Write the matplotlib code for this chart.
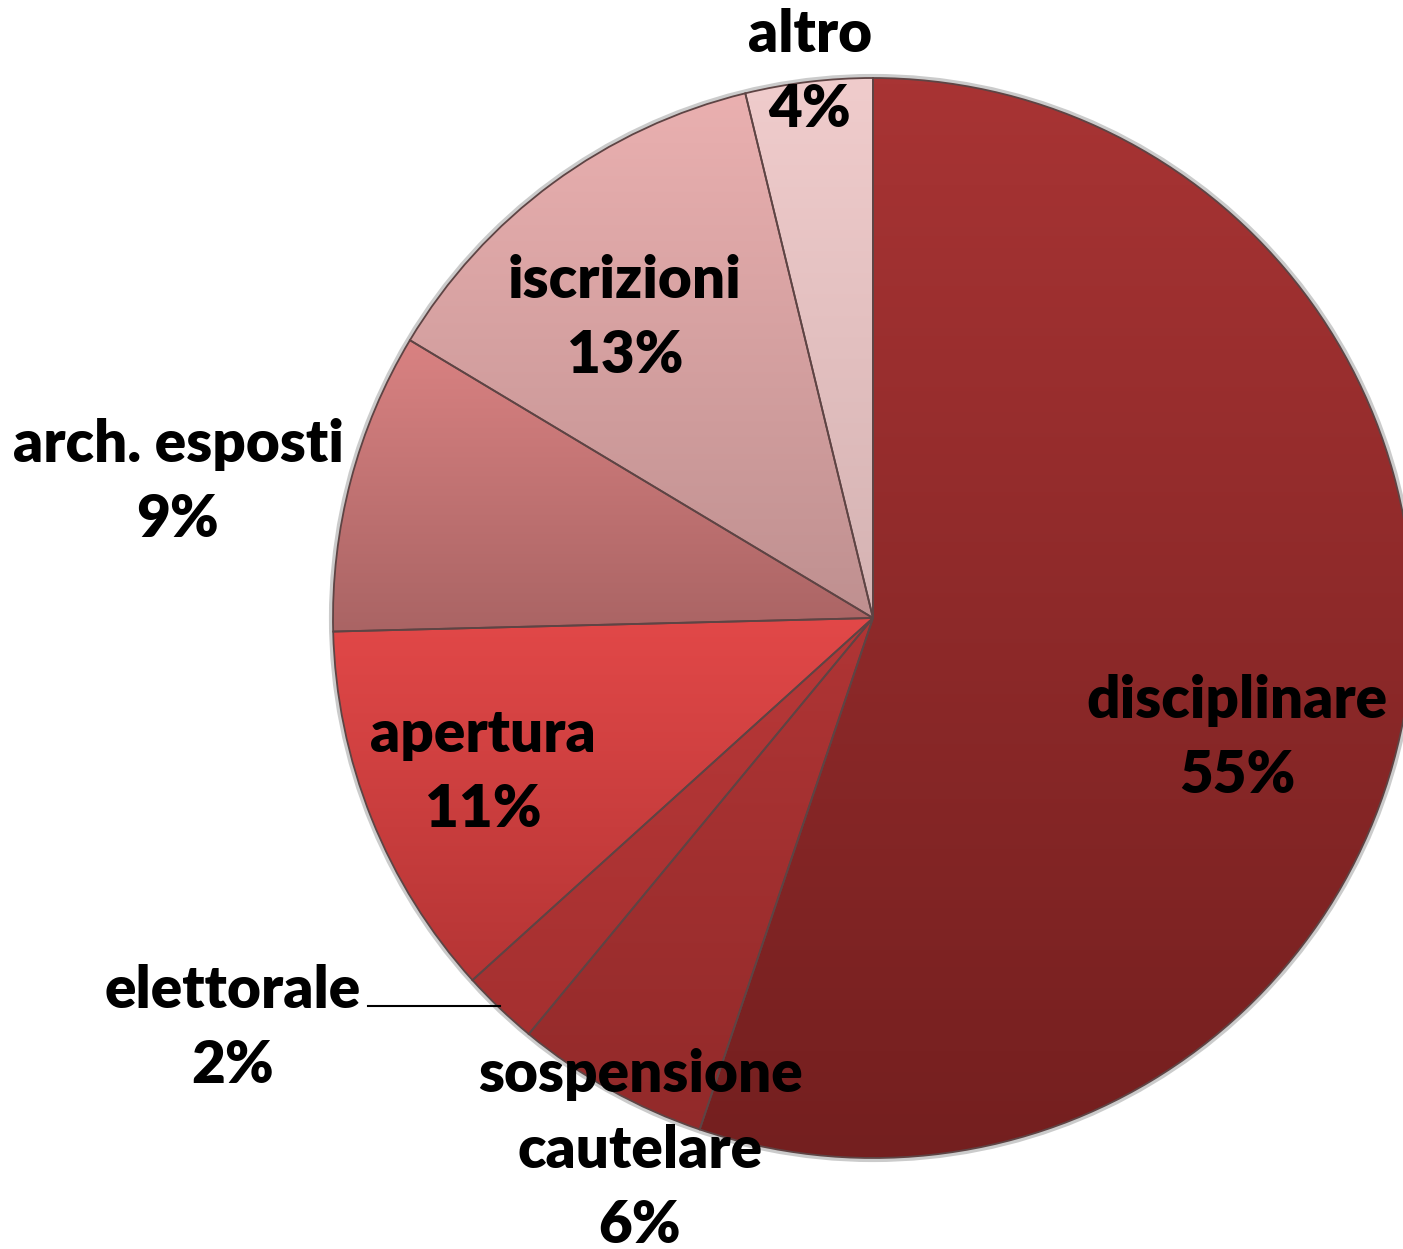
import numpy as np
import matplotlib.pyplot as plt
from matplotlib.colors import LinearSegmentedColormap

labels = ["disciplinare", "sospensione\ncautelare", "elettorale", "apertura",
          "arch. esposti", "iscrizioni", "altro"]
shares = [55.2, 5.8, 2.3, 11.3, 9.0, 12.6, 3.8]   # slice sizes
pct_labels = [55, 6, 2, 11, 9, 13, 4]              # percentages as printed
top_colors = ["#a83434", "#b03535", "#b83838", "#e24848", "#d98282", "#eab0b0", "#f0cccc"]
bot_colors = ["#741f1f", "#922a2a", "#a53030", "#b53535", "#aa6464", "#bf9090", "#d5b3b3"]

W, H = 1403, 1249
cx, cy, R = 873, H - 618, 540

# label positions in pixel coords (x, y from top)
label_pos = [(1237, 738), (640, 1150), (233, 1028), (483, 772),
             (178, 482), (625, 318), (810, 72)]

plt.rcParams['font.family'] = ['Lato', 'DejaVu Sans']

fig = plt.figure(figsize=(W / 100, H / 100), dpi=100)
ax = fig.add_axes([0, 0, 1, 1])

wedges, _ = ax.pie(shares, startangle=90, counterclock=False, center=(cx, cy),
                   radius=R, wedgeprops=dict(linewidth=1.3, edgecolor="#5e4444"))

grad = np.linspace(0, 1, 256).reshape(-1, 1)
for w, ct, cb in zip(wedges, top_colors, bot_colors):
    ext = w.get_path().get_extents()
    cmap = LinearSegmentedColormap.from_list("g", [ct, cb])
    im = ax.imshow(grad, cmap=cmap, aspect='auto', interpolation='bicubic',
                   extent=[cx - R, cx + R, ext.y0, ext.y1], zorder=1)
    im.set_clip_path(w)
    w.set_facecolor('none')
    w.set_zorder(2)

# faint shadow around the pie
ax.add_patch(plt.Circle((cx, cy), R + 2, fill=False, edgecolor="#999999",
                        linewidth=3, alpha=0.5, zorder=0))

for lab, v, (x, y) in zip(labels, pct_labels, label_pos):
    ax.text(x, H - y, f"{lab}\n{v}%", ha='center', va='center', fontsize=42,
            fontweight='heavy', linespacing=1.52, color='black', zorder=5)

ax.plot([368, 500], [H - 1006, H - 1006], color='black', linewidth=1.5, zorder=4)

ax.set_xlim(0, W)
ax.set_ylim(0, H)
ax.set_aspect('equal')
ax.axis('off')

fig.savefig("out.png", dpi=100)
